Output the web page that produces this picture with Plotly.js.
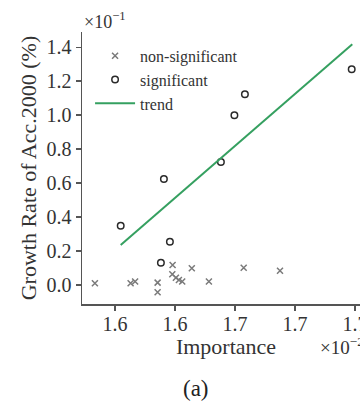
<!DOCTYPE html>
<html>
<head>
<meta charset="utf-8">
<script src="https://cdn.plot.ly/plotly-3.0.1.min.js"></script>
<style>
html,body{margin:0;padding:0;overflow:hidden;background:#fff;width:360px;height:404px;}
#chart{width:380px;height:404px;}
</style>
</head>
<body>
<div id="chart"></div>
<script>
// Non-significant (crosses): importance, growth rate (x10^-1)
const nonSigX = [1.6133, 1.6252, 1.6267, 1.6342, 1.6342, 1.6392, 1.6391, 1.6403, 1.6413, 1.6424, 1.6456, 1.6513, 1.6629, 1.6750];
const nonSigY = [0.010, 0.010, 0.020, 0.014, -0.043, 0.118, 0.063, 0.043, 0.029, 0.020, 0.098, 0.020, 0.102, 0.084];
// Significant (circles)
const sigX = [1.6219, 1.6363, 1.6383, 1.6353, 1.6553, 1.6598, 1.6633, 1.6989];
const sigY = [0.349, 0.624, 0.255, 0.131, 0.725, 1.000, 1.124, 1.271];
// Trend line endpoints
const trendX = [1.6219, 1.6991];
const trendY = [0.235, 1.418];
// Tick labels
const xTickVals = [1.62, 1.64, 1.66, 1.68, 1.70];
const xTickText = ["1.6", "1.6", "1.7", "1.7", "1.7"];
const yTickVals = [0.0, 0.2, 0.4, 0.6, 0.8, 1.0, 1.2, 1.4];

const serif = "Liberation Serif, Times New Roman, serif";
const txt = "#333333";

const traces = [
  {x: nonSigX, y: nonSigY, type: "scatter", mode: "markers", name: "non-significant",
   marker: {symbol: "x-thin-open", size: 6, color: "#7a7a7a", line: {width: 1.5, color: "#7a7a7a"}}},
  {x: sigX, y: sigY, type: "scatter", mode: "markers", name: "significant",
   marker: {symbol: "circle-open", size: 6.5, color: "#2a2a2a", line: {width: 1.5, color: "#2a2a2a"}}},
  {x: trendX, y: trendY, type: "scatter", mode: "lines", name: "trend",
   line: {color: "#35a060", width: 2}}
];

const layout = {
  width: 380, height: 404,
  margin: {l: 82, r: 10, t: 32, b: 100},
  paper_bgcolor: "#fff", plot_bgcolor: "#fff",
  font: {family: serif, color: txt},
  showlegend: true,
  legend: {x: 0.028, y: 0.975, xanchor: "left", yanchor: "top", bgcolor: "rgba(0,0,0,0)",
           itemwidth: 40, font: {family: serif, size: 16, color: txt}, tracegroupgap: 0},
  xaxis: {
    range: [1.609, 1.705], tickvals: xTickVals, ticktext: xTickText,
    showgrid: false, zeroline: false, showline: true, linecolor: "#555", linewidth: 1.5,
    ticks: "outside", ticklen: 5, tickcolor: "#555", tickwidth: 1.5, ticklabelstandoff: -4,
    tickfont: {family: serif, size: 20, color: txt},
    title: {text: "Importance", font: {family: serif, size: 22, color: txt}, standoff: 0}
  },
  yaxis: {
    range: [-0.112, 1.49], tickvals: yTickVals, tickformat: ".1f",
    showgrid: false, zeroline: false, showline: true, linecolor: "#555", linewidth: 1.5,
    ticks: "outside", ticklen: 5, tickcolor: "#555", tickwidth: 1.5,
    tickfont: {family: serif, size: 20, color: txt},
    title: {text: "Growth Rate of Acc.2000 (%)", font: {family: serif, size: 22, color: txt}, standoff: 4}
  },
  annotations: [
    {xref: "paper", yref: "paper", x: 0, y: 1, xanchor: "left", yanchor: "bottom", yshift: -2,
     text: "×10<sup>−1</sup>", showarrow: false, font: {family: serif, size: 18, color: txt}},
    {xref: "paper", yref: "paper", x: 0.819, y: -0.155, xanchor: "left", yanchor: "middle",
     text: "×10<sup>−2</sup>", showarrow: false, font: {family: serif, size: 19, color: txt}},
    {xref: "paper", yref: "paper", x: 0.396, y: -0.312, xanchor: "center", yanchor: "middle",
     text: "(a)", showarrow: false, font: {family: serif, size: 23, color: "#222"}}
  ]
};

Plotly.newPlot("chart", traces, layout, {displayModeBar: false, staticPlot: true});
</script>
</body>
</html>
